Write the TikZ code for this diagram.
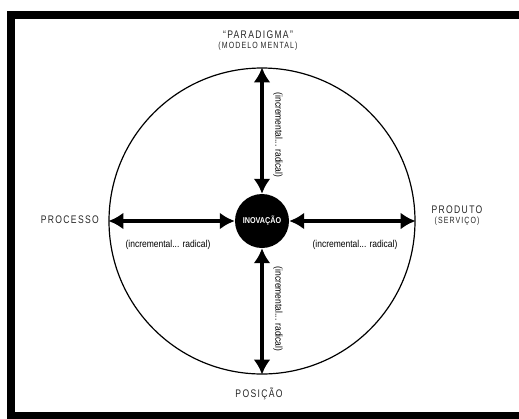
\documentclass[tikz,border=0pt]{standalone}
\usepackage{fontspec}
\setmainfont{Liberation Sans}
\newfontfamily\capsfont[FakeStretch=0.78,LetterSpace=12]{Liberation Sans}
\newfontfamily\condfont[FakeStretch=0.85]{Liberation Sans}
\usetikzlibrary{arrows.meta,positioning}

\begin{document}
\begin{tikzpicture}[
        x=1pt, y=-1pt,
        every node/.style={inner sep=0pt},
        rim/.style={draw=black, line width=1.2pt},
        link/.style={
            line width=3.5pt,
            {Latex[length=15pt,width=17pt]}-{Latex[length=15pt,width=17pt]}
        },
        pole/.style={font=\capsfont\fontsize{11}{12}\selectfont, text=black!85},
        sub/.style={font=\capsfont\fontsize{9}{10}\selectfont, text=black!85},
        grade/.style={font=\condfont\fontsize{10}{12}\selectfont}
    ]
    \useasboundingbox (0,0) rectangle (519,418);
    \clip (0,0) rectangle (519,418);

    % moldura
    \draw[line width=8pt] (530,15) -- (11,15) -- (11,416) -- (530,416);

    % circulos
    \node[circle, rim, minimum size=306pt] (outer) at (262,221) {};
    \node[circle, fill=black, minimum size=54pt, text=white,
          font=\condfont\bfseries\fontsize{8.5}{9}\selectfont] (inov) at (262,221) {INOVAÇÃO};

    % setas
    \draw[link] (outer.north) -- (inov);
    \draw[link] (outer.west)  -- (inov);
    \draw[link] (outer.east)  -- (inov);
    \draw[link] (outer.south) -- (inov);

    % polos
    \node[pole] (para) at (258,35) {“PARADIGMA”};
    \node[sub, below=3pt of para] (mod) {(MODELO MENTAL)};
    \node[pole, anchor=east] (proc) at (99,220) {PROCESSO};
    \node[pole] (prod) at (457,210) {PRODUTO};
    \node[sub, below=3pt of prod] (serv) {(SERVIÇO)};
    \node[pole] (pos) at (259,394) {POSIÇÃO};

    % graus
    \node[grade, rotate=-90] (gtop) at (278,135) {(incremental... radical)};
    \node[grade, rotate=-90] (gbot) at (278,309) {(incremental... radical)};
    \node[grade] (glft) at (168,245) {(incremental... radical)};
    \node[grade] (grgt) at (355,245) {(incremental... radical)};

\end{tikzpicture}
\end{document}
